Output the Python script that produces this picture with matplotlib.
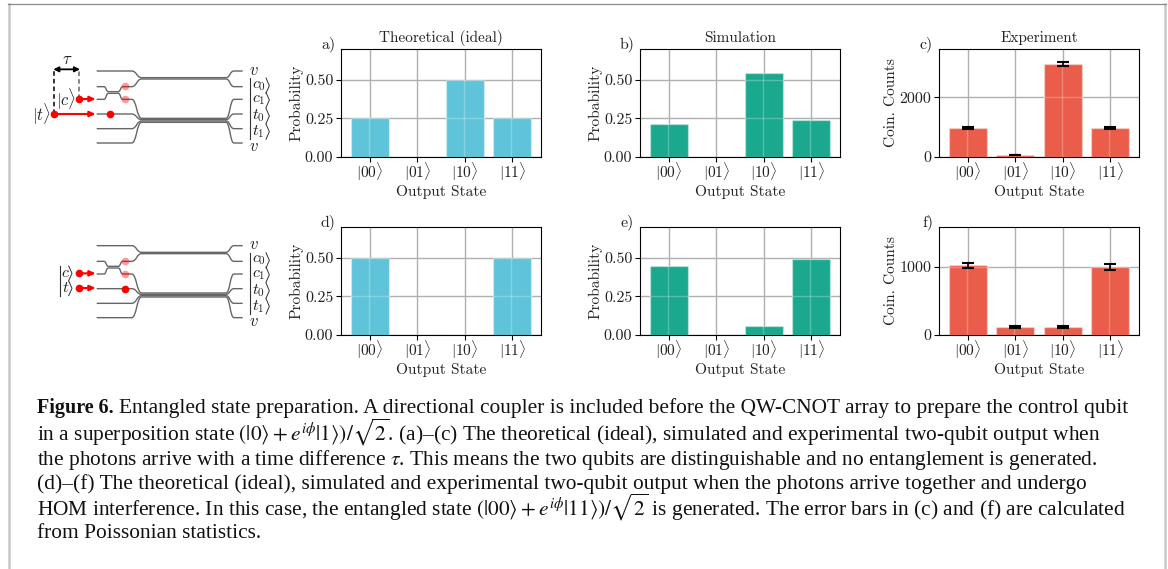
import matplotlib
matplotlib.use("Agg")
import matplotlib.pyplot as plt
from matplotlib.path import Path
from matplotlib.patches import PathPatch

states = [r'$|00\rangle$', r'$|01\rangle$', r'$|10\rangle$', r'$|11\rangle$']
ideal_top = [0.25, 0, 0.50, 0.25]
sim_top = [0.215, 0, 0.545, 0.24]
exp_top = [960, 70, 3110, 980]
exp_top_err = [31, 8, 60, 31]
ideal_bottom = [0.50, 0, 0, 0.50]
sim_bottom = [0.45, 0, 0.06, 0.49]
exp_bottom = [1025, 118, 118, 1000]
exp_bottom_err = [38, 11, 11, 38]

caption = [
    "in a superposition state $(|0\\rangle + e^{i\\phi}|1\\rangle)/\\sqrt{2}$. (a)\u2013(c) The theoretical (ideal), simulated and experimental two-qubit output when",
    "the photons arrive with a time difference $\\tau$. This means the two qubits are distinguishable and no entanglement is generated.",
    "(d)\u2013(f) The theoretical (ideal), simulated and experimental two-qubit output when the photons arrive together and undergo",
    "HOM interference. In this case, the entangled state $(|00\\rangle + e^{i\\phi}|11\\rangle)/\\sqrt{2}$ is generated. The error bars in (c) and (f) are calculated",
    "from Poissonian statistics.",
]
caption_y = [441, 465, 489, 516, 538]

# waveguide levels, zoomed pixels of the top diagram
guide_in = [153, 200, 238, 282, 326, 369]
guide_mid = [173, 177, 295, 299, 303, 307]
out_labels = [r'$c_0$', r'$c_1$', r'$t_0$', r'$t_1$']
out_y = [197, 240, 288, 335]

W, H = 1168, 569
BLUE = '#5fc3d9'
TEAL = '#1aa98f'
RED = '#ea5d4a'
TXT = '#222222'

plt.rcParams['font.family'] = ['cmr10']
plt.rcParams['mathtext.fontset'] = 'cm'
plt.rcParams['axes.formatter.use_mathtext'] = True
plt.rcParams['axes.unicode_minus'] = False

fig = plt.figure(figsize=(W / 100, H / 100), dpi=100)


def panel(x0, y0, vals, color, ylabel, letter, ymax, yticks, title=None, err=None):
    ax = fig.add_axes([x0 / W, 1 - (y0 + 108) / H, 200 / W, 108 / H])
    ax.set_axisbelow(True)
    ax.grid(True, color='#b0b0b0', lw=1)
    ax.bar(range(4), vals, width=0.8, color=color, edgecolor=(1, 1, 1, 0.35), lw=1)
    # the grid shows as a pale line through the bars
    for i, v in enumerate(vals):
        ax.plot([i - 0.02, i - 0.02], [0, v], color='w', alpha=0.25, lw=1)
        for t in yticks:
            if 0 < t < v:
                ax.plot([i - 0.4, i + 0.4], [t, t], color='w', alpha=0.25, lw=1)
    if err is not None:
        ax.errorbar(range(4), vals, yerr=err, fmt='none', ecolor='k', elinewidth=1.2, capsize=4, capthick=1.5)
    ax.set_xlim(-0.6, 3.6)
    ax.set_ylim(0, ymax)
    ax.set_xticks(range(4))
    ax.set_xticklabels(states)
    ax.set_yticks(yticks)
    if ymax < 1:
        ax.set_yticklabels(['%.2f' % t for t in yticks])
    else:
        ax.set_yticklabels([str(t) for t in yticks])
    ax.tick_params(axis='y', labelsize=11.5, length=3.5, pad=2, labelcolor=TXT)
    ax.tick_params(axis='x', labelsize=11, length=3.5, pad=-1, labelcolor=TXT)
    ax.set_xlabel('Output State', fontsize=11.1, labelpad=1.7, color=TXT)
    ax.set_ylabel(ylabel, fontsize=11.1, labelpad=1, color=TXT)
    if title:
        ax.set_title(title, fontsize=11, pad=5, color=TXT)
    fig.text((x0 - 6) / W, 1 - (y0 - 5) / H, letter, fontsize=11.5, ha='right', va='center', color=TXT)


panel(341, 49, ideal_top, BLUE, 'Probability', 'a)', 0.70, [0, 0.25, 0.5], 'Theoretical (ideal)')
panel(640, 49, sim_top, TEAL, 'Probability', 'b)', 0.70, [0, 0.25, 0.5], 'Simulation')
panel(939, 49, exp_top, RED, 'Coin. Counts', 'c)', 3618, [0, 2000], 'Experiment', exp_top_err)
panel(341, 227, ideal_bottom, BLUE, 'Probability', 'd)', 0.70, [0, 0.25, 0.5])
panel(640, 227, sim_bottom, TEAL, 'Probability', 'e)', 0.70, [0, 0.25, 0.5])
panel(939, 227, exp_bottom, RED, 'Coin. Counts', 'f)', 1588, [0, 1000], None, exp_bottom_err)

# overlay in pixel coordinates for the schematic, caption and frame
ov = fig.add_axes([0, 0, 1, 1], facecolor='none')
ov.set_xlim(0, W)
ov.set_ylim(H, 0)
ov.axis('off')


def bend(verts, codes, x1, y1):
    x0, y0 = verts[-1]
    xm = (x0 + x1) / 2
    verts += [(xm, y0), (xm, y1), (x1, y1)]
    codes += [Path.CURVE4] * 3


def guide(dy, yin, ymid, coupler=None):
    verts = [(290 / 3, (yin + dy) / 3)]
    codes = [Path.MOVETO]
    if coupler is not None:
        verts.append((312 / 3, (yin + dy) / 3))
        codes.append(Path.LINETO)
        bend(verts, codes, 325 / 3, (coupler + dy) / 3)
        verts.append((355 / 3, (coupler + dy) / 3))
        codes.append(Path.LINETO)
        bend(verts, codes, 368 / 3, (yin + dy) / 3)
    verts.append((395 / 3, (yin + dy) / 3))
    codes.append(Path.LINETO)
    bend(verts, codes, 425 / 3, (ymid + dy) / 3)
    verts.append((678 / 3, (ymid + dy) / 3))
    codes.append(Path.LINETO)
    bend(verts, codes, 702 / 3, (yin + dy) / 3)
    verts.append((728 / 3, (yin + dy) / 3))
    codes.append(Path.LINETO)
    ov.add_patch(PathPatch(Path(verts, codes), fc='none', ec='#666666', lw=1.0))


def ket_stack(xbar, xtext, xtip, ys, labels, half):
    ov.plot([xbar / 3, xbar / 3], [(ys[0] - half) / 3, (ys[-1] + half) / 3], color='#333333', lw=0.8)
    for y, s in zip(ys, labels):
        ov.text(xtext / 3, y / 3, s, fontsize=11.5, ha='center', va='center', color=TXT)
        ov.plot([(xtip - 10) / 3, xtip / 3, (xtip - 10) / 3], [(y - half) / 3, y / 3, (y + half) / 3], color='#333333', lw=0.7)


def chip(dy):
    for i in range(6):
        c = {1: 215, 2: 220}.get(i)
        guide(dy, guide_in[i], guide_mid[i], c)
    ov.text(762 / 3, (150 + dy) / 3, r'$v$', fontsize=12, ha='center', va='center', color=TXT)
    ov.text(762 / 3, (379 + dy) / 3, r'$v$', fontsize=12, ha='center', va='center', color=TXT)
    ket_stack(751, 776, 808, [y + dy for y in out_y], out_labels, 23)


def dot(x, y, alpha=1.0):
    ov.plot(x / 3, y / 3, 'o', color='#ff0000', ms=5.5, mew=0, alpha=alpha)


def arrow(x0, x1, y):
    ov.annotate('', xy=(x1 / 3, y / 3), xytext=(x0 / 3, y / 3),
                arrowprops=dict(arrowstyle='-|>,head_length=0.35,head_width=0.16', color='#ff0000', lw=1.5,
                                shrinkA=0, shrinkB=0))


# top diagram
top = 60
chip(top)
ov.plot([163 / 3, 163 / 3], [(282 + top) / 3, (150 + top) / 3], color='k', lw=1.1, ls=(0, (3, 2)))
ov.plot([237 / 3, 237 / 3], [(237 + top) / 3, (150 + top) / 3], color='#666666', lw=1.1, ls=(0, (3, 2)))
ov.annotate('', xy=(240 / 3, (148 + top) / 3), xytext=(160 / 3, (148 + top) / 3),
            arrowprops=dict(arrowstyle='<|-|>,head_length=0.3,head_width=0.15', color='k', lw=1.3, shrinkA=0, shrinkB=0))
ov.text(203 / 3, (118 + top) / 3, r'$\tau$', fontsize=12, ha='center', va='center', color=TXT)
ov.text(125 / 3, (282 + top) / 3, r'$|t\rangle$', fontsize=12, ha='center', va='center', color=TXT)
ov.text(197 / 3, (237 + top) / 3, r'$|c\rangle$', fontsize=12, ha='center', va='center', color=TXT)
arrow(163, 287, 282 + top)
arrow(237, 287, 237 + top)
dot(163, 282 + top)
dot(237, 237 + top)
dot(330, 283 + top)
dot(375, 198 + top, 0.4)
dot(375, 237 + top, 0.4)

# bottom diagram
bot = 584
chip(bot)
ket_stack(181, 197, 216, [190 + 630, 235 + 630], [r'$c$', r'$t$'], 22)
arrow(237, 287, 190 + 630)
arrow(237, 287, 234 + 630)
dot(237, 190 + 630)
dot(237, 234 + 630)
dot(375, 236 + 630)
dot(375, 153 + 630, 0.4)
dot(375, 191 + 630, 0.4)

# caption
cap_font = dict(family='Liberation Serif', color='#111111', va='baseline', ha='left', math_fontfamily='stix')
ov.text(37, 413, 'Figure 6.', fontweight='bold', fontsize=14.5, **cap_font)
ov.text(119, 413, 'Entangled state preparation. A directional coupler is included before the QW-CNOT array to prepare the control qubit', fontsize=15.4, **cap_font)
for line, y in zip(caption, caption_y):
    ov.text(37, y, line, fontsize=15.4, **cap_font)

# page frame
ov.plot([9, 9], [4, H], color='#c8c8c8', lw=1.8)
ov.plot([1165, 1165], [4, H], color='#c8c8c8', lw=1.8)
ov.plot([8, 1166], [4, 4], color='#8a8a8a', lw=0.9)

fig.savefig('out.png', dpi=100)
